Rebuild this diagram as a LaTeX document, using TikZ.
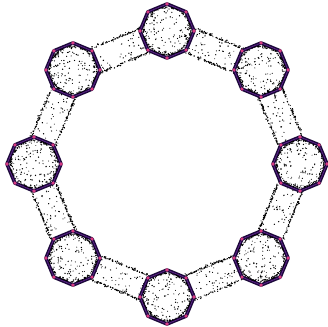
\documentclass[tikz,border=0pt]{standalone}
\definecolor{ringdark}{RGB}{28,8,58}
\definecolor{ringmid}{RGB}{95,35,140}
\definecolor{vtx}{RGB}{215,60,130}
\tikzset{
  dotc/.style={fill=black},
  octline/.style={draw=ringdark,line width=3.6pt,line join=round,fill=white},
  octinner/.style={draw=ringmid,line width=0.7pt,line join=round},
}
\begin{document}
\begin{tikzpicture}[x=1pt,y=-1pt]
\useasboundingbox (0,0) rectangle (328,326);
\pgfmathsetseed{12345}
% octagon centres
\foreach \k in {0,...,7}{
  \coordinate (o\k) at ({167+133*cos(45*\k)},{164-133*sin(45*\k)});
}
% bars (stippled)
\foreach \k in {0,...,7}{
  \pgfmathtruncatemacro{\n}{mod(\k+1,8)}
  \path (o\k) -- (o\n);
  \begin{scope}[shift={(167,164)},rotate={45*\k+22.5}]
    \foreach \i in {1,...,90}{
      \fill[dotc] ({122.9+13*(2*rnd-1)},{50*(2*rnd-1)}) circle ({0.45+0.35*rnd});
    }
    \foreach \i in {1,...,270}{
      \fill[dotc] ({122.9+(2*(rnd>0.5)-1)*(12.2+2.6*rnd*rnd)},{50*(2*rnd-1)}) circle ({0.5+0.35*rnd});
    }
  \end{scope}
}
% octagons
\foreach \k in {0,...,7}{
  \draw[octline] (o\k) +(0:27) -- +(45:27) -- +(90:27) -- +(135:27) -- +(180:27)
     -- +(225:27) -- +(270:27) -- +(315:27) -- cycle;
  \begin{scope}[shift={(o\k)}]
    \foreach \i in {1,...,80}{
      \fill[dotc] ({360*rnd}:{22*sqrt(rnd)}) circle ({0.45+0.35*rnd});
    }
    \foreach \i in {1,...,200}{
      \fill[dotc] ({360*rnd}:{24-3.5*rnd*rnd}) circle ({0.45+0.35*rnd});
    }
  \end{scope}
  \draw[octinner] (o\k) +(0:27) -- +(45:27) -- +(90:27) -- +(135:27) -- +(180:27)
     -- +(225:27) -- +(270:27) -- +(315:27) -- cycle;
  \foreach \j in {0,...,7}{
    \fill[vtx] (o\k) ++(45*\j:27) circle (1.8);
  }
}
\end{tikzpicture}
\end{document}
